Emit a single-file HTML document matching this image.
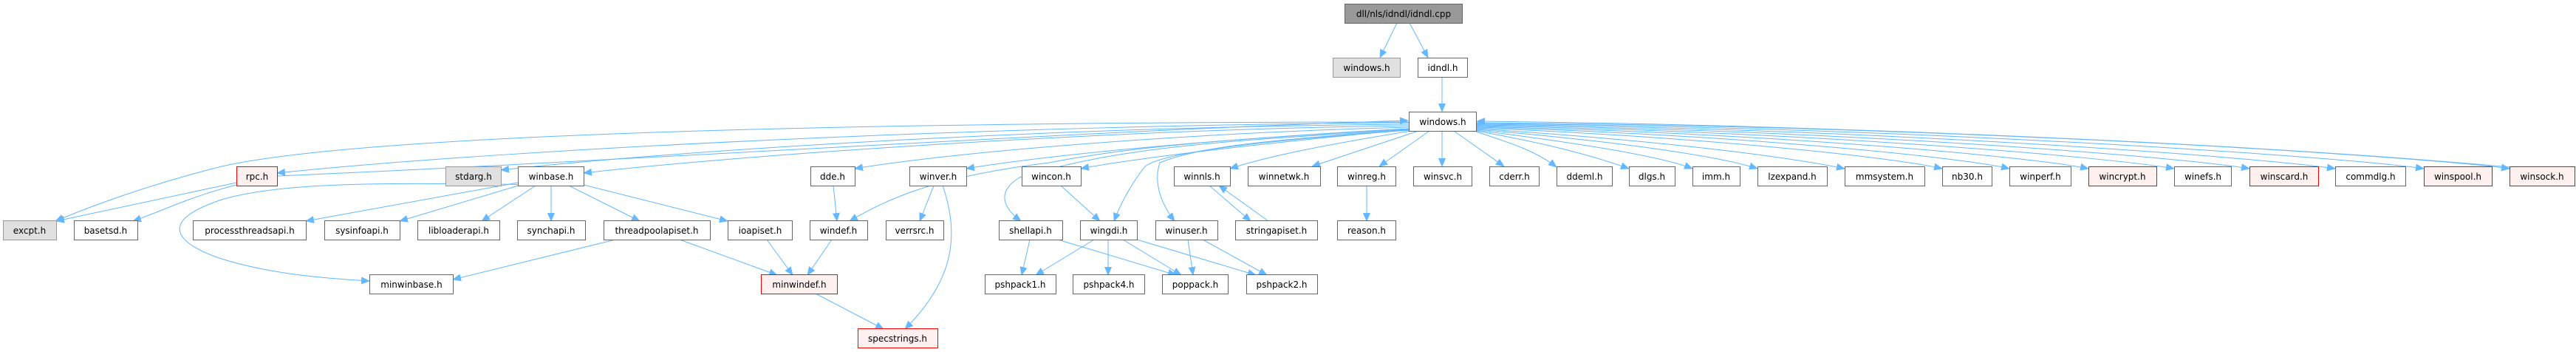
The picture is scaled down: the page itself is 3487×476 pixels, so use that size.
<!DOCTYPE html>
<html><head><meta charset="utf-8"><style>
html,body{margin:0;padding:0;background:#fff;width:3487px;height:476px;overflow:hidden}
svg text{font-family:"DejaVu Sans","Liberation Sans",sans-serif;font-size:12px;fill:#000}
</style></head><body>
<svg width="3487" height="476" viewBox="0 0 3487 476" xmlns="http://www.w3.org/2000/svg">
<defs><marker id="a" markerWidth="12" markerHeight="10" refX="11" refY="5" orient="auto" markerUnits="userSpaceOnUse"><path d="M0,0 L12,5 L0,10 Z" fill="#63b8ff"/></marker></defs>
<g fill="none" stroke="#63b8ff" stroke-width="1" marker-end="url(#a)">
<path d="M1891,31 L1868,78"/>
<path d="M1908,31 L1933,78"/>
<path d="M1952,104 L1952,151"/>
<!-- windows.h to row4 left -->
<path d="M1907,166 C1400,168 700,200 375,234"/>
<path d="M1907,168 C1400,172 900,205 678,230"/>
<path d="M1907,170 C1500,175 1000,210 790,234"/>
<path d="M1907,172 C1600,180 1300,205 1157,228"/>
<path d="M1907,174 C1700,185 1450,205 1308,228"/>
<path d="M1907,175 C1750,190 1560,210 1463,228"/>
<path d="M1910,177 C1800,195 1720,210 1665,228"/>
<path d="M1920,177 L1776,225"/>
<path d="M1935,177 L1867,225"/>
<path d="M1952,177 L1952,225"/>
<path d="M1968,177 L2036,225"/>
<path d="M1907,176 C1650,190 1510,200 1380,240 C1340,265 1370,290 1382,299"/>
<path d="M1907,176 C1700,190 1620,200 1570,220 C1560,250 1575,280 1590,299"/>
<path d="M1907,176 C1650,195 1570,210 1550,225 C1530,250 1515,280 1508,299"/>
<path d="M1907,175 C1600,190 1500,205 1420,220 C1260,240 1200,270 1150,299"/>
<path d="M1907,165 C1200,165 500,180 300,225 C200,250 120,280 75,299"/>
<!-- right -->
<path d="M1998,178 C2050,195 2080,205 2107,226"/>
<path d="M1998,177 C2100,195 2160,212 2205,228"/>
<path d="M1998,176 C2150,195 2250,212 2291,228"/>
<path d="M1998,175 C2200,192 2330,212 2379,228"/>
<path d="M1998,174 C2250,190 2420,212 2497,228"/>
<path d="M1998,173 C2300,185 2560,212 2629,228"/>
<path d="M1998,172 C2350,182 2650,212 2720,228"/>
<path d="M1998,171 C2400,180 2750,212 2827,228"/>
<path d="M1998,170 C2450,178 2850,212 2943,228"/>
<path d="M1998,169 C2500,176 2950,212 3045,228"/>
<path d="M1998,168 C2550,174 3050,212 3161,228"/>
<path d="M1998,167 C2600,172 3170,212 3281,228"/>
<path d="M1998,166 C2650,170 3280,212 3397,228"/>
<path d="M3397,226 C3000,190 2400,168 1999,164"/>
<path d="M375,238 C800,220 1500,175 1906,163"/>
<!-- rpc -->
<path d="M320,247 L76,299"/>
<path d="M320,250 C260,265 220,285 180,299"/>
<!-- winbase -->
<path d="M701,247 L414,299"/>
<path d="M705,250 L541,299"/>
<path d="M725,251 L652,299"/>
<path d="M746,251 L746,299"/>
<path d="M770,251 L866,299"/>
<path d="M790,250 L985,299"/>
<path d="M790,250 C600,250 400,240 300,270 C210,300 240,330 300,350 C370,372 450,377 500,380"/>
<path d="M833,324 L613,378"/>
<path d="M920,324 L1052,372"/>
<path d="M1038,324 L1073,372"/>
<path d="M1126,324 L1093,372"/>
<path d="M1128,251 L1133,299"/>
<path d="M1104,397 L1196,445"/>
<path d="M1264,251 L1245,299"/>
<path d="M1276,251 C1300,320 1290,380 1225,445"/>
<path d="M1436,251 L1489,299"/>
<path d="M1394,324 L1383,372"/>
<path d="M1432,324 L1592,372"/>
<path d="M1481,324 L1402,372"/>
<path d="M1500,324 L1500,372"/>
<path d="M1520,324 L1599,372"/>
<path d="M1539,324 L1700,372"/>
<path d="M1608,324 L1615,372"/>
<path d="M1628,324 L1715,372"/>
<path d="M1637,251 L1693,299"/>
<path d="M1717,299 L1650,251"/>
<path d="M1850,251 L1850,299"/>
</g>
<g stroke-width="1">
<rect x="1820.5" y="5.5" width="159" height="26" fill="#999" stroke="#666"/>
<rect x="1804.5" y="78.5" width="91" height="26" fill="#e0e0e0" stroke="#999"/>
<rect x="1919.5" y="78.5" width="67" height="26" fill="#fff" stroke="#666"/>
<rect x="1907.5" y="151.5" width="91" height="26" fill="#fff" stroke="#666"/>
<g fill="#fff" stroke="#666">
<rect x="100.5" y="298.5" width="86" height="26"/>
<rect x="701.5" y="225.5" width="89" height="26"/>
<rect x="1097.5" y="225.5" width="60" height="26"/>
<rect x="1231.5" y="225.5" width="77" height="26"/>
<rect x="1383.5" y="225.5" width="80" height="26"/>
<rect x="1589.5" y="225.5" width="76" height="26"/>
<rect x="1689.5" y="225.5" width="98" height="26"/>
<rect x="1810.5" y="225.5" width="79" height="26"/>
<rect x="1913.5" y="225.5" width="79" height="26"/>
<rect x="2016.5" y="225.5" width="67" height="26"/>
<rect x="2107.5" y="225.5" width="75" height="26"/>
<rect x="2205.5" y="225.5" width="62" height="26"/>
<rect x="2291.5" y="225.5" width="64" height="26"/>
<rect x="2379.5" y="225.5" width="94" height="26"/>
<rect x="2497.5" y="225.5" width="108" height="26"/>
<rect x="2629.5" y="225.5" width="67" height="26"/>
<rect x="2720.5" y="225.5" width="83" height="26"/>
<rect x="2943.5" y="225.5" width="77" height="26"/>
<rect x="3161.5" y="225.5" width="95" height="26"/>
<rect x="261.5" y="298.5" width="153" height="26"/>
<rect x="439.5" y="298.5" width="102" height="26"/>
<rect x="565.5" y="298.5" width="111" height="26"/>
<rect x="700.5" y="298.5" width="92" height="26"/>
<rect x="817.5" y="298.5" width="144" height="26"/>
<rect x="985.5" y="298.5" width="87" height="26"/>
<rect x="1096.5" y="298.5" width="78" height="26"/>
<rect x="1199.5" y="298.5" width="78" height="26"/>
<rect x="1352.5" y="298.5" width="86" height="26"/>
<rect x="1462.5" y="298.5" width="77" height="26"/>
<rect x="1564.5" y="298.5" width="84" height="26"/>
<rect x="1672.5" y="298.5" width="111" height="26"/>
<rect x="1810.5" y="298.5" width="79" height="26"/>
<rect x="500.5" y="371.5" width="113" height="26"/>
<rect x="1333.5" y="371.5" width="96" height="26"/>
<rect x="1452.5" y="371.5" width="97" height="26"/>
<rect x="1573.5" y="371.5" width="89" height="26"/>
<rect x="1687.5" y="371.5" width="96" height="26"/>
</g>
<g fill="#e0e0e0" stroke="#999">
<rect x="4.5" y="298.5" width="72" height="26"/>
<rect x="603.5" y="225.5" width="75" height="26"/>
</g>
<g fill="#fff0f0" stroke="#f00">
<rect x="320.5" y="225.5" width="55" height="26"/>
<rect x="1030.5" y="371.5" width="103" height="26"/>
<rect x="1161.5" y="444.5" width="108" height="26"/>
<rect x="2827.5" y="225.5" width="92" height="26"/>
<rect x="3045.5" y="225.5" width="93" height="26"/>
<rect x="3281.5" y="225.5" width="92" height="26"/>
<rect x="3397.5" y="225.5" width="88" height="26"/>
</g>
</g>
<g text-anchor="middle">
<text x="1900" y="23">dll/nls/idndl/idndl.cpp</text>
<text x="1850" y="96">windows.h</text>
<text x="1953" y="96">idndl.h</text>
<text x="1953" y="169">windows.h</text>
<text x="348" y="243">rpc.h</text>
<text x="641" y="243">stdarg.h</text>
<text x="746" y="243">winbase.h</text>
<text x="1127" y="243">dde.h</text>
<text x="1270" y="243">winver.h</text>
<text x="1423" y="243">wincon.h</text>
<text x="1627" y="243">winnls.h</text>
<text x="1738" y="243">winnetwk.h</text>
<text x="1850" y="243">winreg.h</text>
<text x="1953" y="243">winsvc.h</text>
<text x="2050" y="243">cderr.h</text>
<text x="2145" y="243">ddeml.h</text>
<text x="2236" y="243">dlgs.h</text>
<text x="2323" y="243">imm.h</text>
<text x="2426" y="243">lzexpand.h</text>
<text x="2551" y="243">mmsystem.h</text>
<text x="2663" y="243">nb30.h</text>
<text x="2762" y="243">winperf.h</text>
<text x="2873" y="243">wincrypt.h</text>
<text x="2982" y="243">winefs.h</text>
<text x="3092" y="243">winscard.h</text>
<text x="3209" y="243">commdlg.h</text>
<text x="3327" y="243">winspool.h</text>
<text x="3441" y="243">winsock.h</text>
<text x="40" y="316">excpt.h</text>
<text x="143" y="316">basetsd.h</text>
<text x="338" y="316">processthreadsapi.h</text>
<text x="490" y="316">sysinfoapi.h</text>
<text x="621" y="316">libloaderapi.h</text>
<text x="746" y="316">synchapi.h</text>
<text x="889" y="316">threadpoolapiset.h</text>
<text x="1029" y="316">ioapiset.h</text>
<text x="1135" y="316">windef.h</text>
<text x="1238" y="316">verrsrc.h</text>
<text x="1395" y="316">shellapi.h</text>
<text x="1501" y="316">wingdi.h</text>
<text x="1606" y="316">winuser.h</text>
<text x="1728" y="316">stringapiset.h</text>
<text x="1850" y="316">reason.h</text>
<text x="557" y="389">minwinbase.h</text>
<text x="1082" y="389">minwindef.h</text>
<text x="1381" y="389">pshpack1.h</text>
<text x="1501" y="389">pshpack4.h</text>
<text x="1618" y="389">poppack.h</text>
<text x="1735" y="389">pshpack2.h</text>
<text x="1215" y="462">specstrings.h</text>
</g>
</svg>
</body></html>
